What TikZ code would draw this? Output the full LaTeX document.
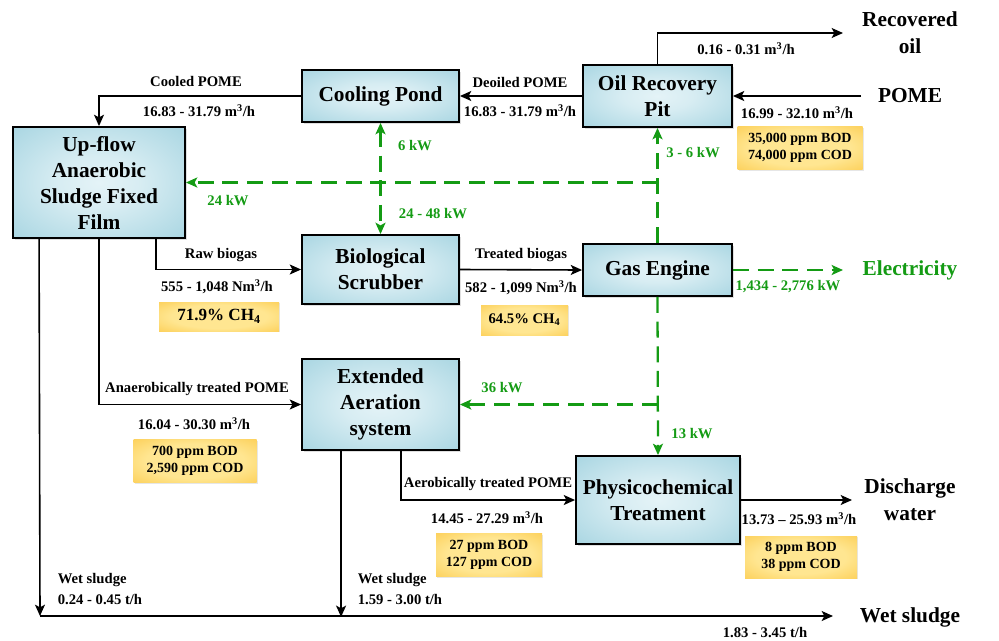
\documentclass[tikz,border=0pt]{standalone}
\usepackage{fontspec}
\setmainfont{Liberation Serif}
\usetikzlibrary{arrows.meta,shadows}

\definecolor{boxouter}{RGB}{141,200,216}
\definecolor{boxinner}{RGB}{228,243,247}
\definecolor{noteouter}{RGB}{250,190,45}
\definecolor{noteinner}{RGB}{255,230,145}
\definecolor{powergreen}{RGB}{20,155,20}

\pgfdeclareradialshading{unitshade}{\pgfpoint{0bp}{0bp}}{color(0bp)=(boxinner); color(12bp)=(boxinner!85!boxouter); color(50bp)=(boxouter); color(75bp)=(boxouter)}
\pgfdeclareradialshading{noteshade}{\pgfpoint{0bp}{0bp}}{color(0bp)=(noteinner); color(20bp)=(noteinner); color(50bp)=(noteouter); color(75bp)=(noteouter)}

\begin{document}
\begin{tikzpicture}[x=0.75pt,y=-0.75pt,>={Stealth[length=8.5pt,width=7.5pt,inset=2pt]},line width=1.2pt,
    unit node/.style={draw,line width=1.4pt,shading=unitshade,align=center,inner sep=1pt,
        font=\fontsize{16}{19.5}\selectfont\bfseries,drop shadow={opacity=0.25,shadow xshift=1.5pt,shadow yshift=-1.5pt}},
    note node/.style={shading=noteshade,align=center,inner sep=1pt,
        font=\fontsize{10.5}{13}\selectfont\bfseries,drop shadow={opacity=0.2,shadow xshift=1pt,shadow yshift=-1pt}},
    flow label/.style={font=\fontsize{11}{13}\selectfont\bfseries,inner sep=0pt},
    power label/.style={flow label,text=powergreen},
    end label/.style={align=center,font=\fontsize{16}{20}\selectfont\bfseries,inner sep=0pt},
    power line/.style={draw=powergreen,line width=1.7pt,dash pattern=on 12pt off 6.5pt}]
    \useasboundingbox (0,0) rectangle (999,640);

    % process units
    \node[unit node,minimum width=117.75pt,minimum height=39pt] (cooling) at (380.5,96) {Cooling Pond};
    \node[unit node,minimum width=111.75pt,minimum height=46.5pt] (oilpit) at (657.5,96) {Oil Recovery\\Pit};
    \node[unit node,minimum width=129pt,minimum height=83.25pt] (uasff) at (99,182.5) {Up-flow\\Anaerobic\\Sludge Fixed\\Film};
    \node[unit node,minimum width=117.75pt,minimum height=51.75pt] (scrubber) at (380.5,269.5) {Biological\\Scrubber};
    \node[unit node,minimum width=111.75pt,minimum height=39pt] (engine) at (657.5,270) {Gas Engine};
    \node[unit node,minimum width=117.75pt,minimum height=68.25pt] (aeration) at (380.5,404.5) {Extended\\Aeration\\system};
    \node[unit node,minimum width=123pt,minimum height=66pt] (physico) at (658,500) {Physicochemical\\Treatment};

    % inputs and outputs
    \node[end label] (oil) at (910,33) {Recovered\\oil};
    \node[end label] (pome) at (910,96) {POME};
    \node[end label,text=powergreen] (electricity) at (910,270) {Electricity};
    \node[end label] (discharge) at (910,500) {Discharge\\water};
    \node[end label] (sludge) at (910,617) {Wet sludge};
    \coordinate (oilend) at (843,33);
    \coordinate (pomestart) at (861,96);
    \coordinate (elecend) at (843,270);
    \coordinate (dischargeend) at (852,500);
    \coordinate (sludgecorner) at (40,616);
    \coordinate (sludgeend) at (833,616);

    % water and gas flows
    \draw[->] (oilpit.north) |- (oilend);
    \draw[->] (pomestart) -- (oilpit.east);
    \draw[->] (oilpit.west) -- (cooling.east);
    \draw[->] (cooling.west) -| (uasff.north);
    \draw[->] ([xshift=-22.5pt]uasff.south east) |- (scrubber.west);
    \draw[->] (scrubber.east) -- (engine.west);
    \draw[->] (uasff.south) |- (aeration.west);
    \draw[->] ([xshift=75pt]aeration.south west) |- (physico.west);
    \draw[->] (physico.east) -- (dischargeend);
    \draw[->] ([xshift=20.25pt]uasff.south west) -- (sludgecorner);
    \draw[->] ([xshift=30pt]aeration.south west) -- ++(0,166);
    \draw[->] (sludgecorner) -- (sludgeend);

    % power flows
    \draw[power line,<->] (cooling.south) -- (scrubber.north);
    \draw[power line,->] (engine.north) -- (oilpit.south);
    \draw[power line,->] (engine.north |- uasff.east) -- (uasff.east);
    \draw[power line,->] (engine.south) -- (physico.north);
    \draw[power line,->] (engine.south |- aeration.east) -- (aeration.east);
    \draw[power line,->] (engine.east) -- (elecend);

    % flow labels
    \node[flow label] (oilrate) at (746,49) {0.16 - 0.31 m\textsuperscript{3}/h};
    \node[flow label] (pomerate) at (797,113) {16.99 - 32.10 m\textsuperscript{3}/h};
    \node[flow label] (deoiled) at (520,82) {Deoiled POME};
    \node[flow label] (deoiledrate) at (520,111) {16.83 - 31.79 m\textsuperscript{3}/h};
    \node[flow label] (cooled) at (196,81) {Cooled POME};
    \node[flow label] (cooledrate) at (199,111) {16.83 - 31.79 m\textsuperscript{3}/h};
    \node[flow label] (raw) at (221,255) {Raw biogas};
    \node[flow label] (rawrate) at (217,287) {555 - 1,048 Nm\textsuperscript{3}/h};
    \node[flow label] (treated) at (521,255) {Treated biogas};
    \node[flow label] (treatedrate) at (521,288) {582 - 1,099 Nm\textsuperscript{3}/h};
    \node[flow label] (anaerobic) at (197,389) {Anaerobically treated POME};
    \node[flow label] (anaerobicrate) at (194,424) {16.04 - 30.30 m\textsuperscript{3}/h};
    \node[flow label] (aerobic) at (488,484) {Aerobically treated POME};
    \node[flow label] (aerobicrate) at (487,518) {14.45 - 27.29 m\textsuperscript{3}/h};
    \node[flow label] (dischargerate) at (799,519) {13.73 -- 25.93 m\textsuperscript{3}/h};
    \node[flow label,anchor=west] (sludgeA) at (57,580) {Wet sludge};
    \node[flow label,anchor=west] (sludgeArate) at (57,600) {0.24 - 0.45 t/h};
    \node[flow label,anchor=west] (sludgeB) at (357,580) {Wet sludge};
    \node[flow label,anchor=west] (sludgeBrate) at (357,600) {1.59 - 3.00 t/h};
    \node[flow label] (sludgerate) at (765,633) {1.83 - 3.45 t/h};

    % power labels
    \node[power label] (pcooling) at (415,146) {6 kW};
    \node[power label] (pscrubber) at (433,214) {24 - 48 kW};
    \node[power label] (puasff) at (228,201) {24 kW};
    \node[power label] (poilpit) at (693,153) {3 - 6 kW};
    \node[power label] (pelec) at (788,287) {1,434 - 2,776 kW};
    \node[power label] (paeration) at (502,388) {36 kW};
    \node[power label] (pphysico) at (692,434) {13 kW};

    % quality notes
    \node[note node,minimum width=93.75pt,minimum height=32.25pt] (rawquality) at (800,148) {35,000 ppm BOD\\74,000 ppm COD};
    \node[note node,minimum width=90pt,minimum height=21.75pt,font=\fontsize{12.8}{15}\selectfont\bfseries] (rawmethane) at (219,316.5) {71.9\% CH\textsubscript{4}};
    \node[note node,minimum width=65.25pt,minimum height=22.5pt,font=\fontsize{11}{13}\selectfont\bfseries] (treatedmethane) at (524.5,320) {64.5\% CH\textsubscript{4}};
    \node[note node,minimum width=92.25pt,minimum height=32.25pt] (anaerobicquality) at (195,461) {700 ppm BOD\\2,590 ppm COD};
    \node[note node,minimum width=79.5pt,minimum height=32.25pt] (aerobicquality) at (489,555) {27 ppm BOD\\127 ppm COD};
    \node[note node,minimum width=84pt,minimum height=31.5pt] (dischargequality) at (801,557) {8 ppm BOD\\38 ppm COD};
\end{tikzpicture}
\end{document}
